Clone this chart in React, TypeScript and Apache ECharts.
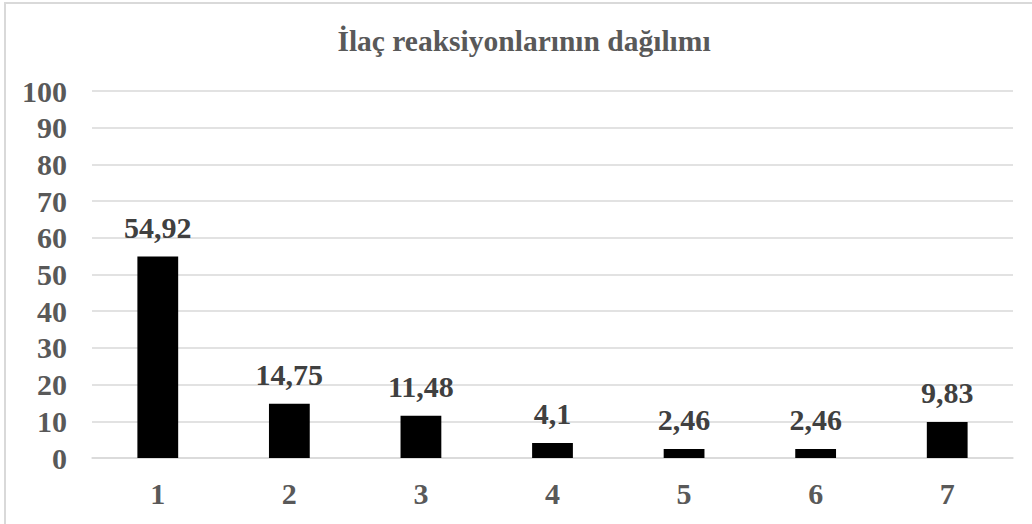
import React, { useEffect, useRef } from "react";
import * as echarts from "echarts";

const titleText = "İlaç reaksiyonlarının dağılımı";
const categories = ["1", "2", "3", "4", "5", "6", "7"];
const values = [54.92, 14.75, 11.48, 4.1, 2.46, 2.46, 9.83];
const yMin = 0;
const yMax = 100;
const yInterval = 10;

const FONT = "Liberation Serif";

export default function App() {
  const ref = useRef<HTMLDivElement>(null);
  useEffect(() => {
    if (!ref.current) return;
    const chart = echarts.init(ref.current, null, { renderer: "svg" });
    chart.setOption({
      animation: false,
      backgroundColor: "#ffffff",
      title: {
        text: titleText,
        left: 519,
        top: 21,
        textAlign: "center",
        textStyle: {
          fontFamily: FONT,
          fontSize: 29.5,
          fontWeight: "bold",
          color: "#595959",
        },
      },
      graphic: [
        {
          type: "rect",
          shape: { x: 5, y: 3, width: 1060, height: 560 },
          style: { fill: "none", stroke: "#d9d9d9", lineWidth: 2 },
          silent: true,
        },
      ],
      grid: { left: 92, right: 19, top: 91, bottom: 66, containLabel: false },
      xAxis: {
        type: "category",
        data: categories,
        axisLine: { show: true, lineStyle: { color: "#d9d9d9", width: 1.5 } },
        axisTick: { show: false },
        axisLabel: {
          margin: 20,
          fontFamily: FONT,
          fontSize: 30,
          fontWeight: "bold",
          color: "#595959",
        },
      },
      yAxis: {
        type: "value",
        min: yMin,
        max: yMax,
        interval: yInterval,
        axisLine: { show: false },
        axisTick: { show: false },
        splitLine: { lineStyle: { color: "#d9d9d9", width: 1.5 } },
        axisLabel: {
          margin: 25,
          fontFamily: FONT,
          fontSize: 30,
          fontWeight: "bold",
          color: "#595959",
        },
      },
      series: [
        {
          type: "bar",
          data: values,
          barWidth: "31%",
          itemStyle: { color: "#000000" },
          label: {
            show: true,
            position: "top",
            distance: 14,
            fontFamily: FONT,
            fontSize: 30,
            fontWeight: "bold",
            color: "#404040",
            formatter: (p: any) => String(p.value).replace(".", ","),
          },
        },
      ],
    });
    return () => chart.dispose();
  }, []);
  return (
    <div
      ref={ref}
      style={{ position: "fixed", left: 0, top: 0, width: 1032, height: 524 }}
    />
  );
}
